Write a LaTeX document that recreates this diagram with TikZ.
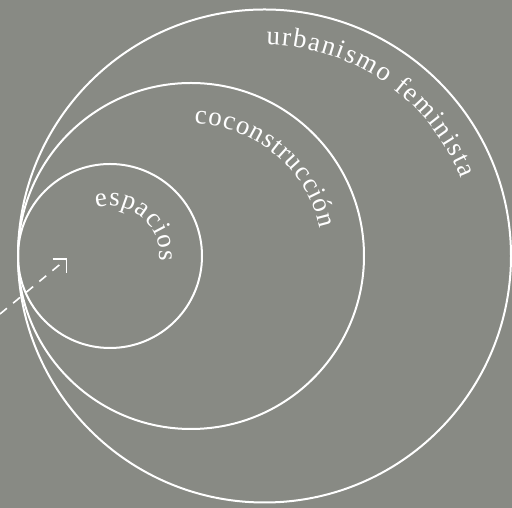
\documentclass[tikz,border=0pt]{standalone}
\usepackage{fontspec}
\setmainfont{Liberation Serif}
\usetikzlibrary{decorations.text}
\definecolor{bg}{RGB}{136,138,132}
\newcommand{\arcfont}{\fontsize{27pt}{30pt}\selectfont}
\begin{document}
\begin{tikzpicture}[x=1pt,y=1pt,
  ring/.style={draw=white, line width=2pt},
  arcText/.style={decorate, decoration={text along path, text color=white,
     text align={fit to path}, text={|\arcfont|#1}}},
  arrowline/.style={draw=white, line width=1.6pt, dash pattern=on 9pt off 8pt},
  arrowtip/.style={draw=white, line width=1.6pt, solid}]
\fill[bg] (0,0) rectangle (512,508);
\useasboundingbox (0,0) rectangle (512,508);
% centres
\coordinate (c1) at (264.5,252);
\coordinate (c2) at (191,252);
\coordinate (c3) at (110,252);
% circles
\draw[ring] (c1) circle[radius=246.5];
\draw[ring] (c2) circle[radius=173];
\draw[ring] (c3) circle[radius=92];
% texts
\path[arcText={urbanismo feminista}] (c1) ++(89.5:211) arc[start angle=89.5, end angle=21.5, radius=211];
\path[arcText={coconstrucción}] (c2) ++(88.5:132) arc[start angle=88.5, end angle=12, radius=132];
\path[arcText={espacios}] (c3) ++(106:50) arc[start angle=106, end angle=-6, radius=50];
% arrow
\coordinate (as) at (0,194);
\coordinate (at) at (66.5,249);
\draw[arrowline] (as) -- (at);
\draw[arrowtip] ([xshift=-14pt]at) -- (at) -- ([yshift=-14pt]at);
\end{tikzpicture}
\end{document}
